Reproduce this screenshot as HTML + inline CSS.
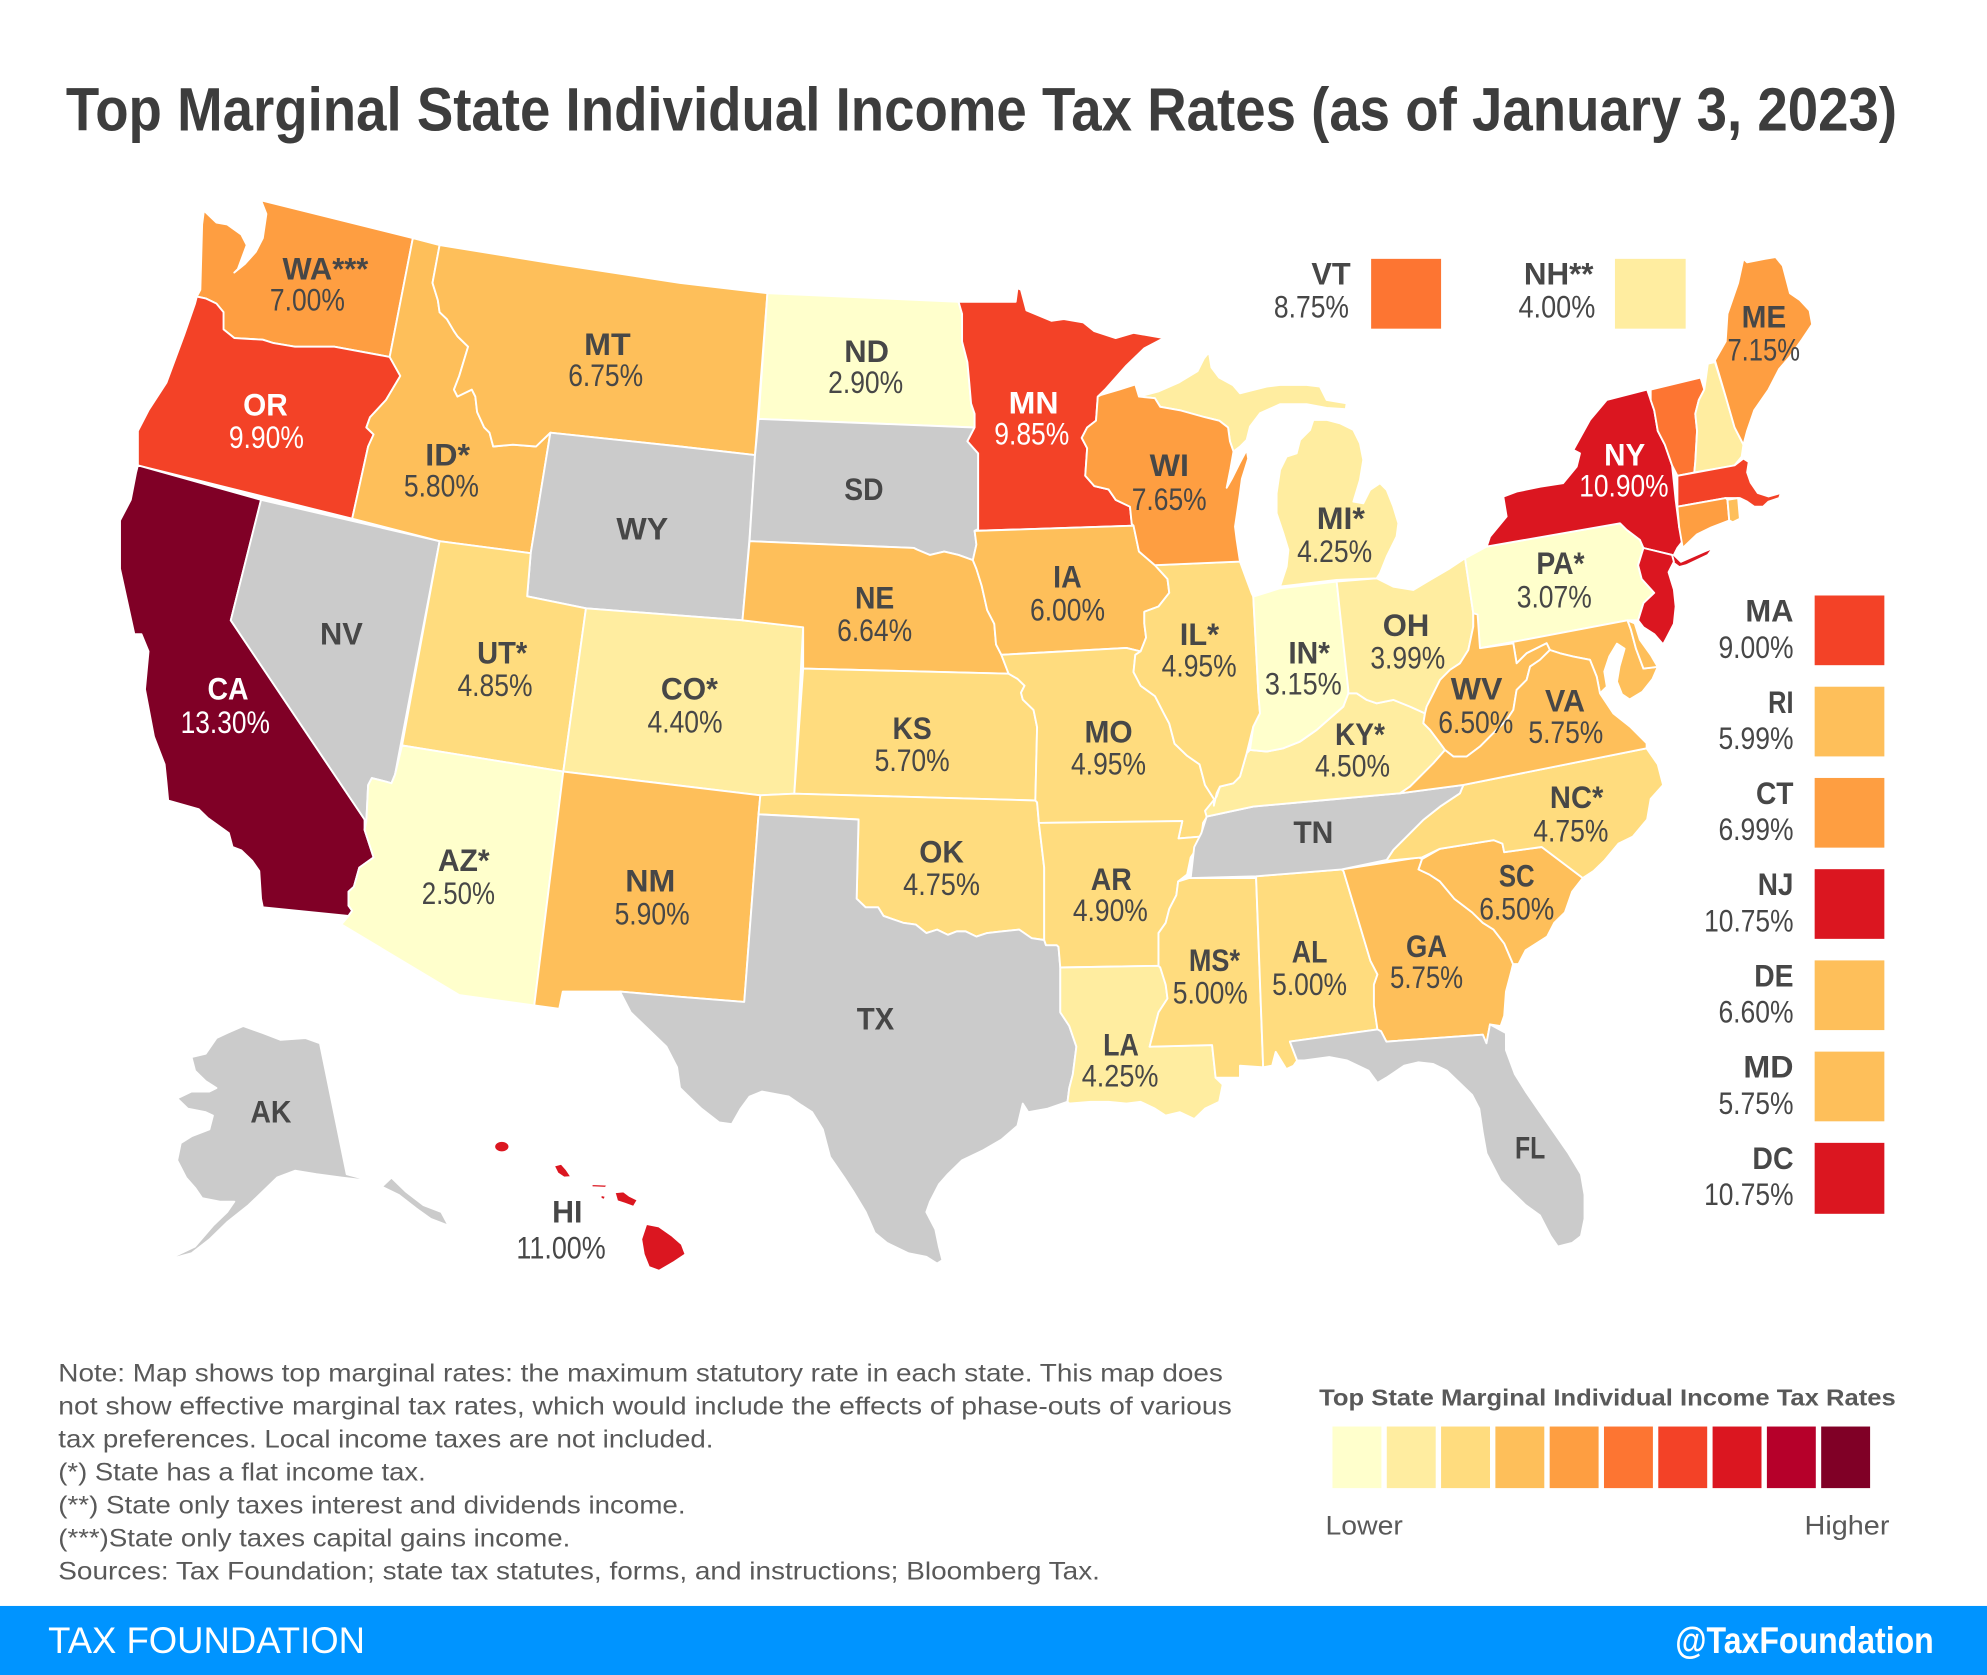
<!DOCTYPE html>
<html><head><meta charset="utf-8"><style>
html,body{margin:0;padding:0;background:#fff;}
svg{display:block;}
text{font-family:"Liberation Sans",Arial,sans-serif;}
.s polygon,.s path,.s ellipse{stroke:#fff;stroke-width:1.5;stroke-linejoin:round;}
.b{font-weight:700;font-size:24.5px;fill:#474747;}
.p{font-size:24.5px;fill:#474747;}
.w{fill:#fff;}
.n{font-size:20px;fill:#595959;}
</style></head><body>
<svg width="1987" height="1675" viewBox="0 0 1568 1322" preserveAspectRatio="none" xmlns="http://www.w3.org/2000/svg">
<rect x="0" y="0" width="1568" height="1322" fill="#fff"/>
<text x="52" y="103" font-size="48" font-weight="700" fill="#3d3d3d" textLength="1445" lengthAdjust="spacingAndGlyphs">Top Marginal State Individual Income Tax Rates (as of January 3, 2023)</text>

<g class="s">
<!-- WA -->
<polygon fill="#FE9E41" points="160.9,166.2 170.8,175.7 179.2,177.1 190.5,185.2 194.7,193.4 187.7,212.4 184.9,215.1 193.3,208.3 201.8,198.8 207.4,187.9 210.2,168.9 206,158.1 325.8,187.9 307.5,281.7 263.8,273.6 232.8,273.6 215.9,270.8 207.4,268.1 184.9,266.8 176.4,260 176.4,246.4 170.8,239.6 162.3,235.5 155.3,234.1 158.1,228.7 159.5,177.1"/>
<!-- OR -->
<polygon fill="#F34227" points="155.3,234.1 162.3,235.5 170.8,239.6 176.4,246.4 176.4,260 184.9,266.8 207.4,268.1 215.9,270.8 232.8,273.6 263.8,273.6 307.5,281.7 315.9,296.7 304.6,315.7 292,329.3 289.1,337.4 294.8,342.9 290.5,352.4 277.9,409.4 108.8,367.3 108.8,340.1 117.2,323.8 131.3,302.1 145.4,264 153.9,239.6"/>
<!-- CA -->
<polygon fill="#800026" points="108.8,367.3 206,394.5 182.1,489.6 287.7,646.8 287.7,654.9 294.8,676.7 283.5,684.8 279.3,699.8 275,703.8 275,714.7 277.9,718.8 275,722.9 207.4,716.1 206,709.3 204.6,687.5 199,679.4 190.5,671.2 183.5,668.5 180.6,657.6 163.7,645.4 156.7,638.6 132.7,631.8 131.3,616.9 129.9,603.3 121.5,581.5 114.4,544 117.2,514.1 111.6,500.5 106,500.5 94.7,448.9 94.7,410.8 103.2,394.5 107.4,372.8"/>
<!-- NV -->
<polygon fill="#CBCBCB" points="206,394.5 346.9,427.1 311.7,611.4 308.9,618.2 304.6,616.9 293.4,614.1 290.5,619.6 289.1,648.1 287.7,646.8 182.1,489.6"/>
<!-- ID -->
<polygon fill="#FEBF5A" points="325.8,187.9 346.9,193.4 341.3,223.3 345.5,236.9 346.9,246.4 352.6,251.8 358.2,261.3 361,265.4 369.4,273.6 362.4,296.7 358.2,307.5 361,313 372.3,307.5 375.1,313 376.5,325.2 382.1,337.4 386.3,341.5 389.2,352.4 404.7,351 423,352.4 427.2,348.3 434.3,341.5 418.8,436.6 346.9,427.1 277.9,409.4 290.5,352.4 294.8,342.9 289.1,337.4 292,329.3 304.6,315.7 315.9,296.7 307.5,281.7"/>
<!-- MT -->
<polygon fill="#FEBF5A" points="346.9,193.4 440,208.5 536.6,223.3 605.6,231.4 595.8,359.2 536.6,352.4 434.3,341.5 427.2,348.3 423,352.4 404.7,351 389.2,352.4 386.3,341.5 382.1,337.4 376.5,325.2 375.1,313 372.3,307.5 361,313 358.2,307.5 362.4,296.7 369.4,273.6 361,265.4 358.2,261.3 352.6,251.8 346.9,246.4 345.5,236.9 341.3,223.3"/>
<!-- WY -->
<polygon fill="#CBCBCB" points="434.3,341.5 536.6,352.4 595.8,359.2 591.5,424.4 585.9,489.6 462.4,480.1 416,470.6 418.8,436.6"/>
<!-- UT -->
<polygon fill="#FFDC7E" points="346.9,427.1 418.8,436.6 416,470.6 462.4,480.1 444.5,609 317.3,588.3"/>
<!-- CO -->
<polygon fill="#FFEDA0" points="462.4,480.1 585.9,489.6 633.8,495.1 626.8,626.4 600,627.7 444.5,609"/>
<!-- AZ -->
<polygon fill="#FFFFCC" points="317.3,588.3 444.5,609 421.6,793.5 362.4,785.4 269.4,729.6 275,722.9 277.9,718.8 275,714.7 275,703.8 279.3,699.8 283.5,684.8 294.8,676.7 287.7,654.9 289.1,648.1 290.5,619.6 293.4,614.1 304.6,616.9 308.9,618.2 311.7,611.4"/>
<!-- NM -->
<polygon fill="#FEBF5A" points="444.5,609 600,627.7 598.6,642.7 587.3,790.8 536.6,786.7 489.2,782.6 444.1,782.6 441.3,796.2 421.6,793.5"/>
<!-- ND -->
<polygon fill="#FFFFCC" points="605.6,231.4 756.4,238.2 759.2,247.7 759.2,269.5 763.4,285.8 764.9,302.1 766.3,318.4 769.1,326.6 769.1,337.4 598.6,330.6"/>
<!-- SD -->
<polygon fill="#CBCBCB" points="598.6,330.6 769.1,337.4 763.4,348.3 771.9,357.8 771.9,417.6 769.1,419 770.5,429.8 767.7,442.1 756.4,438 745.1,435.3 733.9,438 724,433.9 721.2,432.5 591.5,427.1 595.8,359.2"/>
<!-- NE -->
<polygon fill="#FEBF5A" points="591.5,427.1 721.2,432.5 724,433.9 733.9,438 745.1,435.3 756.4,438 767.7,442.1 770.5,448.9 774.7,462.4 779,481.5 784.6,492.3 786,508.6 790.2,516.8 795.9,531.7 633.8,527.7 633.8,495.1 585.9,489.6"/>
<!-- KS -->
<polygon fill="#FFDC7E" points="633.8,527.7 795.9,531.7 803,535.8 808.5,541.2 805.7,546.7 807.1,552.1 815.6,560.3 818.4,573.9 817,631.8 626.8,626.4"/>
<!-- OK -->
<polygon fill="#FFDC7E" points="600,627.7 626.8,626.4 817,631.8 818.4,633.2 819.8,649.5 824,684.8 824,741.9 814.2,740.5 804.3,733.7 790.2,735.1 779,736.4 770.5,739.2 762,735.1 755,735.1 748,737.8 739.5,733.7 731,736.4 722.6,729.7 712.7,728.3 697.2,722.9 693,716.1 683.1,716.1 676,709.3 677.5,646.8 598.6,642.7"/>
<!-- TX -->
<polygon fill="#CBCBCB" points="598.6,642.7 677.5,646.8 676,709.3 683.1,716.1 693,716.1 697.2,722.9 712.7,728.3 722.6,729.7 731,736.4 739.5,733.7 748,737.8 755,735.1 762,735.1 770.5,739.2 779,736.4 790.2,735.1 804.3,733.7 814.2,740.5 824,741.9 825.4,746 833.9,746 835.3,747.3 836.7,763.6 836.7,799 843.8,809.8 849.4,826.1 846.6,847.9 843.8,858.7 842.4,869.6 826.8,875 811.4,877.8 807.1,871 802.9,888.6 790.2,899.5 776.1,907.7 759.2,915.8 748,926.7 740.9,934.8 733.9,948.4 731,956.6 738.1,970.2 740.9,983.8 743.7,994.6 739.5,997.3 731,991.9 717,989.2 700,981 690.2,972.9 683.1,956.6 673.3,940.3 666.2,929.4 655,913.1 649.3,891.4 640.9,877.8 632.4,872.3 622.5,865.5 601.4,861.5 591.5,865.5 584.5,875 577.5,887.3 567.6,885.9 553.5,875 542.2,864.2 536.6,858.7 534.3,842.4 525.9,826.1 511.8,812.5 497.7,799 489.2,782.6 536.6,786.7 587.3,790.8"/>
<!-- MN -->
<polygon fill="#F34227" points="756.4,238.2 801.5,238.2 802.9,227.4 805.7,228.7 810,245 829.7,253.2 839.5,251.8 855,254.5 863.5,261.3 880.4,266.8 894.5,262.7 918.4,266.8 903,274.9 888.9,288.5 872,307.5 866.3,313 864.9,332 857.9,337.4 853.6,345.6 857.9,353.7 856.4,375.5 863.5,383.6 874.8,386.3 880.4,394.5 891.7,399.9 893.1,413.5 894.5,414.9 769.1,419 771.9,417.6 771.9,357.8 763.4,348.3 769.1,337.4 769.1,326.6 766.3,318.4 764.9,302.1 763.4,285.8 759.2,269.5 759.2,247.7"/>
<!-- IA -->
<polygon fill="#FEBF5A" points="769.1,419 894.5,414.9 898.8,435.3 911.4,446.1 921.3,457 922.7,467.9 914.2,478.7 903,482.8 903,492.3 904.4,503.2 900.1,514.1 888.9,511.4 790.2,516.8 786,508.6 784.6,492.3 779,481.5 774.7,462.4 770.5,448.9 767.7,442.1 770.5,429.8"/>
<!-- MO -->
<polygon fill="#FFDC7E" points="790.2,516.8 888.9,511.4 900.1,514.1 895.9,516.8 894.5,530.4 900.1,541.2 911.4,549.4 918.4,563 922.7,571.1 926.9,587 936.8,596.5 946.6,603.3 950.9,619.6 957.9,630.5 957.9,635.9 949.4,649.5 948,660.3 930,661.7 933,648 819.8,649.5 818.4,633.2 817,631.8 818.4,573.9 815.6,560.3 807.1,552.1 805.7,546.7 808.5,541.2 803,535.8 795.9,531.7"/>
<!-- AR -->
<polygon fill="#FFDC7E" points="819.8,649.5 933,648 930,661.7 948,660.3 945.2,668.5 939.6,676.7 936.8,690.2 929.7,695.7 928.3,706.5 922.7,717.4 919.9,728.3 914.2,736.4 914.2,750 914.2,762.3 836.7,763.6 835.3,747.3 833.9,746 825.4,746 824,741.9 824,684.8"/>
<!-- LA -->
<polygon fill="#FFEDA0" points="836.7,763.6 914.2,762.3 915.6,763.6 919.9,777.2 921.3,788.1 914.2,799 911.4,809.8 907.2,826.1 956.5,824.8 959.3,850.6 964.9,856 962.1,869.6 950.9,875 942.4,883.2 931.1,877.8 919.9,880.5 911.4,875 900.1,869.6 888.9,871 874.8,869.6 860.7,869.6 843.8,871 842.4,869.6 843.8,858.7 846.6,847.9 849.4,826.1 843.8,809.8 836.7,799"/>
<!-- MS -->
<polygon fill="#FFDC7E" points="938.2,693 991.2,693 996.8,842.4 978.5,841.1 978.5,850.6 964.9,850.6 959.3,850.6 956.5,824.8 907.2,826.1 911.4,809.8 914.2,799 921.3,788.1 919.9,777.2 915.6,763.6 914.2,762.3 914.2,750 914.2,736.4 919.9,728.3 922.7,717.4 928.3,706.5 929.7,695.7"/>
<!-- AL -->
<polygon fill="#FFDC7E" points="991.2,691.6 1058.8,686.2 1060.2,687.5 1081.4,758.2 1087,769.1 1084.2,777.2 1084.2,793.5 1087,812.5 1017.9,822.1 1023.6,837 1020.8,841.1 1015.1,843.8 1006.7,830.2 1003.9,841.1 996.8,842.4"/>
<!-- GA -->
<polygon fill="#FEBF5A" points="1058.8,686.2 1119.4,676.7 1122.2,678 1119.4,686.2 1127.9,690.2 1136.3,695.7 1147.6,709.3 1161.7,720.1 1170.1,728.3 1178.6,733.7 1187,744.6 1194,760.9 1192.7,766.3 1188.4,782.6 1187,801.7 1184.2,809.8 1175.8,808.5 1173,823.4 1170.1,816.6 1094,822.1 1089.8,813.9 1087,812.5 1084.2,793.5 1084.2,777.2 1087,769.1 1081.4,758.2 1060.2,687.5"/>
<!-- SC -->
<polygon fill="#FEBF5A" points="1122.2,678 1136.3,669.9 1178.6,663.1 1185.6,665.8 1187,672.6 1216.6,668.5 1249,693 1240.6,703.8 1234.9,720.1 1226.5,728.3 1220.9,739.2 1203.9,750 1198.3,760.9 1194,760.9 1187,744.6 1178.6,733.7 1170.1,728.3 1161.7,720.1 1147.6,709.3 1136.3,695.7 1127.9,690.2 1119.4,686.2"/>
<!-- NC -->
<polygon fill="#FFDC7E" points="1154.8,619.5 1299.4,590.6 1308.2,603.3 1312.4,619.6 1302.6,630.5 1299.8,646.8 1288.5,660.3 1277.2,665.8 1265.9,679.4 1257.5,687.5 1249,693 1216.6,668.5 1187,672.6 1185.6,665.8 1178.6,663.1 1136.3,669.9 1122.2,676.7 1094,679.4 1094.3,678.7 1099.5,670.8 1107.4,662.9 1123.2,647.1 1136.4,636.6 1152.1,626.1"/>
<!-- FL -->
<polygon fill="#CBCBCB" points="1017.9,822.1 1087,812.5 1089.8,813.9 1094,822.1 1170.1,816.6 1173,823.4 1175.8,808.5 1188.4,815.3 1188.4,828.8 1195.5,847.9 1204,861.5 1215.2,877.8 1226.5,894.1 1237.8,910.4 1247.6,926.7 1250.4,943 1250.4,962 1247.6,975.6 1240.6,981 1229.3,983.8 1223.6,975.6 1215.2,959.3 1204,951.2 1195.5,943 1184.2,932.1 1178.6,921.3 1173,910.4 1170.1,894.1 1167.3,875 1161.7,864.2 1153.2,856 1141.9,845.1 1130.7,839.7 1119.4,838.4 1108.1,841.1 1094,850.6 1087,854.7 1080,845.1 1063,837 1049,834.3 1029.2,837 1023.6,837"/>
<!-- TN -->
<polygon fill="#CBCBCB" points="952.2,644.5 989,636.6 1046.9,631.3 1104.8,626.1 1154.8,619.5 1152.1,626.1 1136.4,636.6 1123.2,647.1 1107.4,662.9 1099.5,670.8 1094.3,678.7 1058.8,686.2 991.2,691.6 939.6,693 942.4,668.5 948,657.6"/>
<!-- KY -->
<polygon fill="#FFEDA0" points="950.9,640 960.1,628.7 962.7,620.8 973.3,618.2 978.5,612.9 983.8,594.5 986.4,591.9 999.6,593.2 1012.7,590.6 1025.9,585.3 1039,576.1 1049.5,566.9 1060,557.7 1064,547.2 1070.6,547.2 1078.5,552.4 1086.4,555.1 1099.5,552.4 1112.7,557.7 1124.5,563 1123.2,570.8 1128.5,576.1 1136.4,586.6 1140.3,591.9 1131.1,602.4 1120.6,612.9 1112.7,620.8 1104.8,626.1 1046.9,631.3 989,636.6 952.2,644.5"/>
<!-- IL -->
<polygon fill="#FFDC7E" points="911.4,446.1 978.5,443.2 983.8,457.7 987.7,468.2 989,470.9 993,547.2 994.3,563 989,573.5 986.4,584 983.8,594.5 978.5,612.9 973.3,618.2 962.7,620.8 960.1,626.1 957.9,635.9 957.9,630.5 950.9,619.6 946.6,603.3 936.8,596.5 926.9,587 922.7,571.1 918.4,563 911.4,549.4 900.1,541.2 894.5,530.4 895.9,516.8 900.1,514.1 904.4,503.2 903,492.3 903,482.8 914.2,478.7 922.7,467.9 921.3,457"/>
<!-- IN -->
<polygon fill="#FFFFCC" points="989,470.9 1010.1,464.3 1054.8,459 1064,544.5 1064,547.2 1060,557.7 1049.5,566.9 1039,576.1 1025.9,585.3 1012.7,590.6 999.6,593.2 986.4,591.9 989,573.5 994.3,563 993,547.2"/>
<!-- OH -->
<polygon fill="#FFEDA0" points="1054.8,459 1086.4,456.4 1099.5,463 1115.3,465.6 1128.5,457.7 1144.2,448.5 1156.1,440.6 1162.6,484 1162.6,494.5 1158.7,513 1152.1,523.5 1144.2,528.7 1136.4,536.6 1131.1,547.2 1125.8,557.7 1124.5,563 1112.7,557.7 1099.5,552.4 1086.4,555.1 1078.5,552.4 1070.6,547.2 1064,547.2 1064,544.5"/>
<!-- MI lower -->
<polygon fill="#FFEDA0" points="1010.1,463 1054.8,457.7 1086.4,456.4 1089,452.5 1094.3,439.3 1102.1,423.5 1103.5,413 1099.5,399.8 1094.3,386.7 1089,381.4 1081.1,386.7 1075.8,397.2 1068,395.9 1073.2,378.8 1075.8,363 1073.2,349.9 1068,339.3 1057.4,334.1 1046.9,331.4 1036.4,331.4 1033.8,339.3 1025.9,347.2 1023.2,357.8 1015.3,360.4 1010.1,370.9 1007.4,389.3 1007.4,405.1 1012.7,420.9 1016.7,434 1015.3,447.2"/>
<!-- MI upper -->
<polygon fill="#FFEDA0" points="898.8,313 914,309 930,302 945,293 950,283 954,278 956,290 962,298 973,304 978.5,310.4 989,307.8 999.6,305.1 1010.1,303.8 1031.1,303.8 1041.6,305.1 1046.9,315.7 1062.7,318.3 1062,323 1046.9,322 1031.1,319 1010.1,319 994.3,326.2 986.4,336.7 983.8,347.2 978.5,352.5 973.4,356.4 970.6,348.3 969.1,337.4 962.1,332 950.9,329.3 931.1,323.8 915.6,321.1 911.4,314.3"/>
<!-- WI -->
<polygon fill="#FE9E41" points="866.3,313 869.1,311.6 883.2,307.5 895.9,303.4 898.8,313 911.4,314.3 915.6,321.1 931.1,323.8 950.9,329.3 962.1,332 969.1,337.4 970.6,348.3 973.4,356.4 971,370 968,385 972,378 978,366 983.8,355.1 985,362 980,378 978.5,389.3 974.6,415.6 975.9,426.1 978.5,443.2 911.4,446.1 898.8,435.3 894.5,414.9 893.1,413.5 891.7,399.9 880.4,394.5 874.8,386.3 863.5,383.6 856.4,375.5 857.9,353.7 853.6,345.6 857.9,337.4 864.9,332"/>
<!-- PA -->
<polygon fill="#FFFFCC" points="1156.1,440.6 1173.2,431.4 1278.4,413 1283.7,418.2 1294.1,426.1 1296.9,432.5 1292.7,446.1 1295.5,457 1305.4,467.9 1296.9,476 1292.7,489.6 1284.3,489.6 1167.9,511.6 1162.6,494.5 1162.6,484"/>
<!-- NY -->
<polygon fill="#DB1620" points="1173.2,431.4 1175.8,423.5 1188.9,407.7 1186.3,392 1196.8,388 1215.5,384.1 1233.4,381.4 1244.2,368.3 1246.8,357.8 1241.6,355.1 1254.7,331.4 1267.9,315.7 1299.8,307.5 1302.6,315.7 1305.4,323.8 1308.2,340.1 1313.8,351 1319.5,367.3 1322.3,394.5 1325.1,416.2 1327.9,427.1 1323.7,432.5 1320.9,438 1326.5,443.4 1344.9,435.3 1351.9,432.5 1347.7,438 1330.7,446.1 1325.1,447.5 1319.5,443.4 1319.5,438 1296.9,432.5 1294.1,426.1 1283.7,418.2 1278.4,413"/>
<!-- NJ -->
<polygon fill="#DB1620" points="1296.9,432.5 1319.5,438 1320.9,443.4 1316.7,451.6 1320.9,465.2 1322.3,478.7 1320.9,492.3 1315.3,503.2 1312.4,508.6 1305.4,500.5 1296.9,495.1 1292.7,489.6 1296.9,476 1305.4,467.9 1295.5,457 1292.7,446.1"/>
<!-- MD -->
<polygon fill="#FEBF5A" points="1167.9,511.6 1284.3,489.6 1287,497 1291,512 1296.9,527.7 1308.2,526.3 1304,536 1296,546 1286,552 1280,548 1276,538 1278,526 1282,512 1276,508 1270,518 1266,530 1268,542 1262.6,547.2 1260,534 1254.7,520.8 1241.6,518.2 1231,515.6 1223.1,513 1220.5,507.7 1204.7,515.6 1196.8,523.5 1194.2,507.7"/>
<!-- DE -->
<polygon fill="#FEBF5A" points="1284.3,489.6 1290,492 1294.1,505 1302.6,516.8 1308.2,526.3 1296.9,527.7 1291,512 1287,497"/>
<!-- WV -->
<polygon fill="#FEBF5A" points="1162.6,484 1166,485 1167.9,511.6 1194.2,507.7 1196.8,523.5 1204.7,515.6 1220.5,507.7 1223.1,513 1215.2,520.8 1207.4,526.1 1204.7,536.6 1196.8,544.5 1194.2,560.3 1189,568.2 1178.4,578.7 1167.9,589.2 1157.4,597.1 1146.9,597.1 1140.3,591.9 1136.4,586.6 1128.5,576.1 1123.2,570.8 1124.5,563 1125.8,557.7 1131.1,547.2 1136.4,536.6 1144.2,528.7 1152.1,523.5 1158.7,513 1162.6,494.5"/>
<!-- VA -->
<polygon fill="#FEBF5A" points="1104.8,626.1 1112.7,620.8 1120.6,612.9 1131.1,602.4 1140.3,591.9 1146.9,597.1 1157.4,597.1 1167.9,589.2 1178.4,578.7 1189,568.2 1194.2,560.3 1196.8,544.5 1204.7,536.6 1207.4,526.1 1215.2,520.8 1223.1,513 1231,515.6 1241.6,518.2 1254.7,520.8 1260,534 1262.6,547.2 1273.1,563 1286.3,573.5 1299.4,586.6 1299.4,590.6 1154.8,619.5"/>
<!-- VT -->
<polygon fill="#FD7532" points="1302.6,307.5 1342,298 1344.9,307.5 1340.6,315.7 1337.8,326.6 1339.2,340.1 1337.8,364.6 1337,372.9 1323.7,375.5 1319.5,367.3 1313.8,351 1308.2,340.1 1305.4,323.8 1302.6,315.7"/>
<!-- NH -->
<polygon fill="#FFEDA0" points="1344.9,307.5 1347.7,287.1 1353.3,285.8 1361.8,313 1368.8,337.4 1375.8,351 1374.4,360.5 1368.8,367.3 1337,372.9 1337.8,364.6 1339.2,340.1 1337.8,326.6 1340.6,315.7"/>
<!-- ME -->
<polygon fill="#FE9E41" points="1353.3,284.4 1361.8,269.5 1363.2,247.7 1371.6,223.3 1375.8,204.3 1378.7,207 1392.8,204.3 1401.2,202.9 1406.8,209.7 1412.5,231.4 1420.4,236.9 1428,245 1430,256 1422,268 1412,282 1404,291.2 1395.6,307.5 1384.3,323.8 1378.7,340.1 1375.8,351 1368.8,337.4 1361.8,313"/>
<!-- MA -->
<polygon fill="#F34227" points="1323.7,375.5 1368.8,367.3 1375.8,361.9 1380,364.6 1378.7,372.8 1381.5,380.9 1387.1,389.1 1395.6,391.8 1405.4,389.1 1404,393.1 1395.6,395.9 1391.3,399.9 1384.3,399.9 1378.7,395.9 1373,393.1 1361.8,393.1 1323.7,399.9"/>
<!-- CT -->
<polygon fill="#FE9E41" points="1323.7,399.9 1361.8,393.1 1363.2,394.5 1364.6,410.8 1350.5,416.2 1339.2,421.7 1327.9,432.5 1325.1,416.2"/>
<!-- RI -->
<polygon fill="#FEBF5A" points="1363.2,394.5 1371.6,393.1 1373,409.4 1367.4,412.2 1364.6,410.8"/>
<!-- AK -->
<polygon fill="#CBCBCB" points="151.1,834.3 162.3,831.6 170.8,819.3 179.2,815.3 191.9,809.8 207.4,815.3 221.5,820.7 241.2,819.3 252.5,823.4 273.6,926.7 283.5,929.4 300.4,937.5 308.9,929.4 320.1,940.3 334.2,951.1 348.3,956.6 354,967.4 339.9,962 328.6,953.9 314.5,943 292,932.1 269.4,929.4 249.7,926.7 232.8,924 218.7,929.4 207.4,940.3 196.2,951.1 179.2,964.7 165.2,978.3 151.1,989.2 131.3,994.6 153.9,983.8 168,967.4 179.2,956.6 184.9,948.4 173.6,948.4 159.5,945.7 153.9,937.5 146.8,929.4 139.8,915.8 142.6,902.2 151.1,896.8 165.2,891.4 168,880.5 162.3,877.8 148.2,875 139.8,866.9 151.1,861.5 165.2,861.5 170.8,858.7 162.3,853.3 153.9,845.1"/>
<!-- HI -->
<ellipse fill="#DB1620" cx="396" cy="905" rx="6" ry="4.5"/>
<polygon fill="#DB1620" points="437,920 443,918.5 447,923 451,929 445,929.4 440,926"/>
<polygon fill="#DB1620" points="466.7,934.5 479.3,935 478,937.5 467,937"/>
<polygon fill="#DB1620" points="474,943 478,944 477,947 474,946"/>
<polygon fill="#DB1620" points="485,941 492,940.3 497,944 503.3,947 500,952.5 493,950 487,948"/>
<polygon fill="#DB1620" points="510,966 520,968 530,975 538,982 541,990 532,996 520,1003 512,1000 508,990 506,978"/>
</g>

<!-- state labels -->
<g>
<text class="b" x="222.9" y="220.6" textLength="67.7" lengthAdjust="spacingAndGlyphs">WA***</text>
<text class="p" x="213" y="245" textLength="59.2" lengthAdjust="spacingAndGlyphs">7.00%</text>
<text class="b w" x="191.9" y="327.9" textLength="35.2" lengthAdjust="spacingAndGlyphs">OR</text>
<text class="p w" x="180.6" y="353.7" textLength="59.2" lengthAdjust="spacingAndGlyphs">9.90%</text>
<text class="b" x="335.6" y="367.3" textLength="35.3" lengthAdjust="spacingAndGlyphs">ID*</text>
<text class="p" x="318.7" y="391.8" textLength="59.2" lengthAdjust="spacingAndGlyphs">5.80%</text>
<text class="b" x="461" y="280.3" textLength="36.7" lengthAdjust="spacingAndGlyphs">MT</text>
<text class="p" x="448.4" y="304.8" textLength="59.1" lengthAdjust="spacingAndGlyphs">6.75%</text>
<text class="b" x="486.4" y="425.7" textLength="40.9" lengthAdjust="spacingAndGlyphs">WY</text>
<text class="b" x="252.5" y="508.6" textLength="33.8" lengthAdjust="spacingAndGlyphs">NV</text>
<text class="b" x="376.5" y="523.6" textLength="39.5" lengthAdjust="spacingAndGlyphs">UT*</text>
<text class="p" x="361" y="549.4" textLength="59.2" lengthAdjust="spacingAndGlyphs">4.85%</text>
<text class="b w" x="163.7" y="552.1" textLength="32.4" lengthAdjust="spacingAndGlyphs">CA</text>
<text class="p w" x="142.5" y="578.5" textLength="70.5" lengthAdjust="spacingAndGlyphs">13.30%</text>
<text class="b" x="521.5" y="552.1" textLength="45" lengthAdjust="spacingAndGlyphs">CO*</text>
<text class="p" x="511" y="578" textLength="59.2" lengthAdjust="spacingAndGlyphs">4.40%</text>
<text class="b" x="345.5" y="687.5" textLength="40.9" lengthAdjust="spacingAndGlyphs">AZ*</text>
<text class="p" x="332.8" y="713.3" textLength="57.8" lengthAdjust="spacingAndGlyphs">2.50%</text>
<text class="b" x="493.4" y="703.8" textLength="39.5" lengthAdjust="spacingAndGlyphs">NM</text>
<text class="p" x="485" y="729.6" textLength="59.2" lengthAdjust="spacingAndGlyphs">5.90%</text>
<text class="b" x="666.2" y="285.8" textLength="35.3" lengthAdjust="spacingAndGlyphs">ND</text>
<text class="p" x="653.5" y="310.2" textLength="59.2" lengthAdjust="spacingAndGlyphs">2.90%</text>
<text class="b" x="666.2" y="394.5" textLength="31" lengthAdjust="spacingAndGlyphs">SD</text>
<text class="b" x="674.7" y="480.1" textLength="31" lengthAdjust="spacingAndGlyphs">NE</text>
<text class="p" x="660.6" y="505.9" textLength="59.2" lengthAdjust="spacingAndGlyphs">6.64%</text>
<text class="b" x="704.3" y="583.3" textLength="31" lengthAdjust="spacingAndGlyphs">KS</text>
<text class="p" x="690.2" y="608.7" textLength="59.2" lengthAdjust="spacingAndGlyphs">5.70%</text>
<text class="b" x="725.4" y="680.7" textLength="35.2" lengthAdjust="spacingAndGlyphs">OK</text>
<text class="p" x="712.7" y="706.5" textLength="60.6" lengthAdjust="spacingAndGlyphs">4.75%</text>
<text class="b" x="676.1" y="812.5" textLength="29.6" lengthAdjust="spacingAndGlyphs">TX</text>
<text class="b w" x="795.9" y="326.5" textLength="39.4" lengthAdjust="spacingAndGlyphs">MN</text>
<text class="p w" x="784.6" y="351" textLength="59.2" lengthAdjust="spacingAndGlyphs">9.85%</text>
<text class="b" x="831.1" y="463.8" textLength="22.5" lengthAdjust="spacingAndGlyphs">IA</text>
<text class="p" x="812.8" y="489.6" textLength="59.2" lengthAdjust="spacingAndGlyphs">6.00%</text>
<text class="b" x="855.8" y="585.9" textLength="38" lengthAdjust="spacingAndGlyphs">MO</text>
<text class="p" x="845.2" y="611.4" textLength="59.1" lengthAdjust="spacingAndGlyphs">4.95%</text>
<text class="b" x="860.7" y="702.5" textLength="32.4" lengthAdjust="spacingAndGlyphs">AR</text>
<text class="p" x="846.6" y="726.9" textLength="59.2" lengthAdjust="spacingAndGlyphs">4.90%</text>
<text class="b" x="870.5" y="832.9" textLength="28.2" lengthAdjust="spacingAndGlyphs">LA</text>
<text class="p" x="853.6" y="857.4" textLength="60.6" lengthAdjust="spacingAndGlyphs">4.25%</text>
<text class="b" x="907.2" y="375.5" textLength="31" lengthAdjust="spacingAndGlyphs">WI</text>
<text class="p" x="893.1" y="402.6" textLength="59.1" lengthAdjust="spacingAndGlyphs">7.65%</text>
<text class="b" x="931" y="509" textLength="31" lengthAdjust="spacingAndGlyphs">IL*</text>
<text class="p" x="916.7" y="534" textLength="59.2" lengthAdjust="spacingAndGlyphs">4.95%</text>
<text class="b" x="1016.7" y="523.5" textLength="32.8" lengthAdjust="spacingAndGlyphs">IN*</text>
<text class="p" x="998.2" y="548.3" textLength="60.6" lengthAdjust="spacingAndGlyphs">3.15%</text>
<text class="b" x="1039.1" y="417.6" textLength="38" lengthAdjust="spacingAndGlyphs">MI*</text>
<text class="p" x="1023.6" y="443.4" textLength="59.2" lengthAdjust="spacingAndGlyphs">4.25%</text>
<text class="b" x="1091.2" y="501.8" textLength="36.7" lengthAdjust="spacingAndGlyphs">OH</text>
<text class="p" x="1081.4" y="527.7" textLength="59.1" lengthAdjust="spacingAndGlyphs">3.99%</text>
<text class="b" x="1053.5" y="587.9" textLength="39.4" lengthAdjust="spacingAndGlyphs">KY*</text>
<text class="p" x="1037.7" y="613" textLength="59.2" lengthAdjust="spacingAndGlyphs">4.50%</text>
<text class="b" x="1020.6" y="665.5" textLength="31.6" lengthAdjust="spacingAndGlyphs">TN</text>
<text class="b" x="938.2" y="766.3" textLength="40.3" lengthAdjust="spacingAndGlyphs">MS*</text>
<text class="p" x="925.5" y="792.2" textLength="59.2" lengthAdjust="spacingAndGlyphs">5.00%</text>
<text class="b" x="1019.4" y="759.5" textLength="28.1" lengthAdjust="spacingAndGlyphs">AL</text>
<text class="p" x="1003.9" y="785.4" textLength="59.1" lengthAdjust="spacingAndGlyphs">5.00%</text>
<text class="b" x="1109.5" y="755.5" textLength="32.4" lengthAdjust="spacingAndGlyphs">GA</text>
<text class="p" x="1096.9" y="779.9" textLength="57.7" lengthAdjust="spacingAndGlyphs">5.75%</text>
<text class="b" x="1182.8" y="699.8" textLength="28.2" lengthAdjust="spacingAndGlyphs">SC</text>
<text class="p" x="1167.3" y="725.6" textLength="59.2" lengthAdjust="spacingAndGlyphs">6.50%</text>
<text class="b" x="1223.1" y="637.9" textLength="42.1" lengthAdjust="spacingAndGlyphs">NC*</text>
<text class="p" x="1210" y="664.2" textLength="59.2" lengthAdjust="spacingAndGlyphs">4.75%</text>
<text class="b" x="1144.8" y="552.1" textLength="40.8" lengthAdjust="spacingAndGlyphs">WV</text>
<text class="p" x="1135" y="578.7" textLength="59.2" lengthAdjust="spacingAndGlyphs">6.50%</text>
<text class="b" x="1219.2" y="561.6" textLength="31.6" lengthAdjust="spacingAndGlyphs">VA</text>
<text class="p" x="1206.1" y="586.6" textLength="59.1" lengthAdjust="spacingAndGlyphs">5.75%</text>
<text class="b" x="1212.4" y="452.9" textLength="38" lengthAdjust="spacingAndGlyphs">PA*</text>
<text class="p" x="1196.9" y="479.3" textLength="59.2" lengthAdjust="spacingAndGlyphs">3.07%</text>
<text class="b w" x="1265.9" y="367.3" textLength="32.4" lengthAdjust="spacingAndGlyphs">NY</text>
<text class="p w" x="1246.2" y="391.8" textLength="70.5" lengthAdjust="spacingAndGlyphs">10.90%</text>
<text class="b" x="1374.4" y="258.6" textLength="35.2" lengthAdjust="spacingAndGlyphs">ME</text>
<text class="p" x="1363.2" y="284.4" textLength="57.2" lengthAdjust="spacingAndGlyphs">7.15%</text>
<text class="b" x="1195.5" y="914.5" textLength="23.9" lengthAdjust="spacingAndGlyphs">FL</text>
<text class="b" x="197.6" y="885.9" textLength="32.4" lengthAdjust="spacingAndGlyphs">AK</text>
<text class="b" x="435.7" y="964.7" textLength="23.9" lengthAdjust="spacingAndGlyphs">HI</text>
<text class="p" x="407.5" y="993.3" textLength="70.5" lengthAdjust="spacingAndGlyphs">11.00%</text>
</g>

<!-- VT / NH callouts -->
<text class="b" x="1034.9" y="224.6" textLength="31" lengthAdjust="spacingAndGlyphs">VT</text>
<text class="p" x="1005.3" y="250.5" textLength="59.2" lengthAdjust="spacingAndGlyphs">8.75%</text>
<rect x="1082" y="204.3" width="55.2" height="55.1" fill="#FD7532"/>
<text class="b" x="1202.5" y="224.6" textLength="55" lengthAdjust="spacingAndGlyphs">NH**</text>
<text class="p" x="1198.3" y="250.5" textLength="60.6" lengthAdjust="spacingAndGlyphs">4.00%</text>
<rect x="1274.4" y="204.3" width="55.8" height="55.1" fill="#FFEDA0"/>

<!-- right legend -->
<text class="b" x="1377.3" y="490.7" textLength="38" lengthAdjust="spacingAndGlyphs">MA</text>
<text class="p" x="1356.1" y="519.3" textLength="59.2" lengthAdjust="spacingAndGlyphs">9.00%</text>
<rect x="1432" y="470" width="55" height="55" fill="#F34227"/>
<text class="b" x="1395.3" y="562.6" textLength="20" lengthAdjust="spacingAndGlyphs">RI</text>
<text class="p" x="1356.1" y="591.2" textLength="59.2" lengthAdjust="spacingAndGlyphs">5.99%</text>
<rect x="1432" y="542" width="55" height="55" fill="#FEBF5A"/>
<text class="b" x="1385.7" y="634.5" textLength="29.6" lengthAdjust="spacingAndGlyphs">CT</text>
<text class="p" x="1356.1" y="663.1" textLength="59.2" lengthAdjust="spacingAndGlyphs">6.99%</text>
<rect x="1432" y="614" width="55" height="55" fill="#FE9E41"/>
<text class="b" x="1387.1" y="706.5" textLength="28.2" lengthAdjust="spacingAndGlyphs">NJ</text>
<text class="p" x="1344.8" y="735.1" textLength="70.5" lengthAdjust="spacingAndGlyphs">10.75%</text>
<rect x="1432" y="686" width="55" height="55" fill="#DB1620"/>
<text class="b" x="1384.3" y="778.6" textLength="31" lengthAdjust="spacingAndGlyphs">DE</text>
<text class="p" x="1356.1" y="807.1" textLength="59.2" lengthAdjust="spacingAndGlyphs">6.60%</text>
<rect x="1432" y="758" width="55" height="55" fill="#FEBF5A"/>
<text class="b" x="1375.8" y="850.6" textLength="39.5" lengthAdjust="spacingAndGlyphs">MD</text>
<text class="p" x="1356.1" y="879.1" textLength="59.2" lengthAdjust="spacingAndGlyphs">5.75%</text>
<rect x="1432" y="830" width="55" height="55" fill="#FEBF5A"/>
<text class="b" x="1382.9" y="922.6" textLength="32.4" lengthAdjust="spacingAndGlyphs">DC</text>
<text class="p" x="1344.8" y="951.1" textLength="70.5" lengthAdjust="spacingAndGlyphs">10.75%</text>
<rect x="1432" y="902" width="55" height="56" fill="#DB1620"/>

<!-- notes -->
<text class="n" x="46" y="1090.5" textLength="919" lengthAdjust="spacingAndGlyphs">Note: Map shows top marginal rates: the maximum statutory rate in each state. This map does</text>
<text class="n" x="46" y="1116.5" textLength="926" lengthAdjust="spacingAndGlyphs">not show effective marginal tax rates, which would include the effects of phase-outs of various</text>
<text class="n" x="46" y="1142.5" textLength="517" lengthAdjust="spacingAndGlyphs">tax preferences. Local income taxes are not included.</text>
<text class="n" x="46" y="1168.5" textLength="290" lengthAdjust="spacingAndGlyphs">(*) State has a flat income tax.</text>
<text class="n" x="46" y="1194.5" textLength="495" lengthAdjust="spacingAndGlyphs">(**) State only taxes interest and dividends income.</text>
<text class="n" x="46" y="1220.5" textLength="404" lengthAdjust="spacingAndGlyphs">(***)State only taxes capital gains income.</text>
<text class="n" x="46" y="1246.5" textLength="822" lengthAdjust="spacingAndGlyphs">Sources: Tax Foundation; state tax statutes, forms, and instructions; Bloomberg Tax.</text>

<!-- gradient legend -->
<text x="1041" y="1109.5" font-size="18.5" font-weight="700" fill="#595959" textLength="455" lengthAdjust="spacingAndGlyphs">Top State Marginal Individual Income Tax Rates</text>
<rect x="1051.5" y="1125.9" width="38.6" height="48.6" fill="#FFFFCC"/>
<rect x="1094.35" y="1125.9" width="38.6" height="48.6" fill="#FFEDA0"/>
<rect x="1137.2" y="1125.9" width="38.6" height="48.6" fill="#FFDC7E"/>
<rect x="1180.05" y="1125.9" width="38.6" height="48.6" fill="#FEBF5A"/>
<rect x="1222.9" y="1125.9" width="38.6" height="48.6" fill="#FE9E41"/>
<rect x="1265.75" y="1125.9" width="38.6" height="48.6" fill="#FD7532"/>
<rect x="1308.6" y="1125.9" width="38.6" height="48.6" fill="#F34227"/>
<rect x="1351.45" y="1125.9" width="38.6" height="48.6" fill="#DB1620"/>
<rect x="1394.3" y="1125.9" width="38.6" height="48.6" fill="#B6002A"/>
<rect x="1437.15" y="1125.9" width="38.6" height="48.6" fill="#800026"/>
<text x="1046" y="1211.3" font-size="21" fill="#595959" textLength="61" lengthAdjust="spacingAndGlyphs">Lower</text>
<text x="1424" y="1211.3" font-size="21" fill="#595959" textLength="67" lengthAdjust="spacingAndGlyphs">Higher</text>

<!-- footer -->
<rect x="0" y="1267.5" width="1568" height="54.5" fill="#0094FF"/>
<text x="38" y="1304.7" font-size="29" fill="#fff" textLength="250" lengthAdjust="spacingAndGlyphs">TAX FOUNDATION</text>
<text x="1322" y="1304.7" font-size="29" font-weight="700" fill="#fff" textLength="204" lengthAdjust="spacingAndGlyphs">@TaxFoundation</text>
</svg>
</body></html>
